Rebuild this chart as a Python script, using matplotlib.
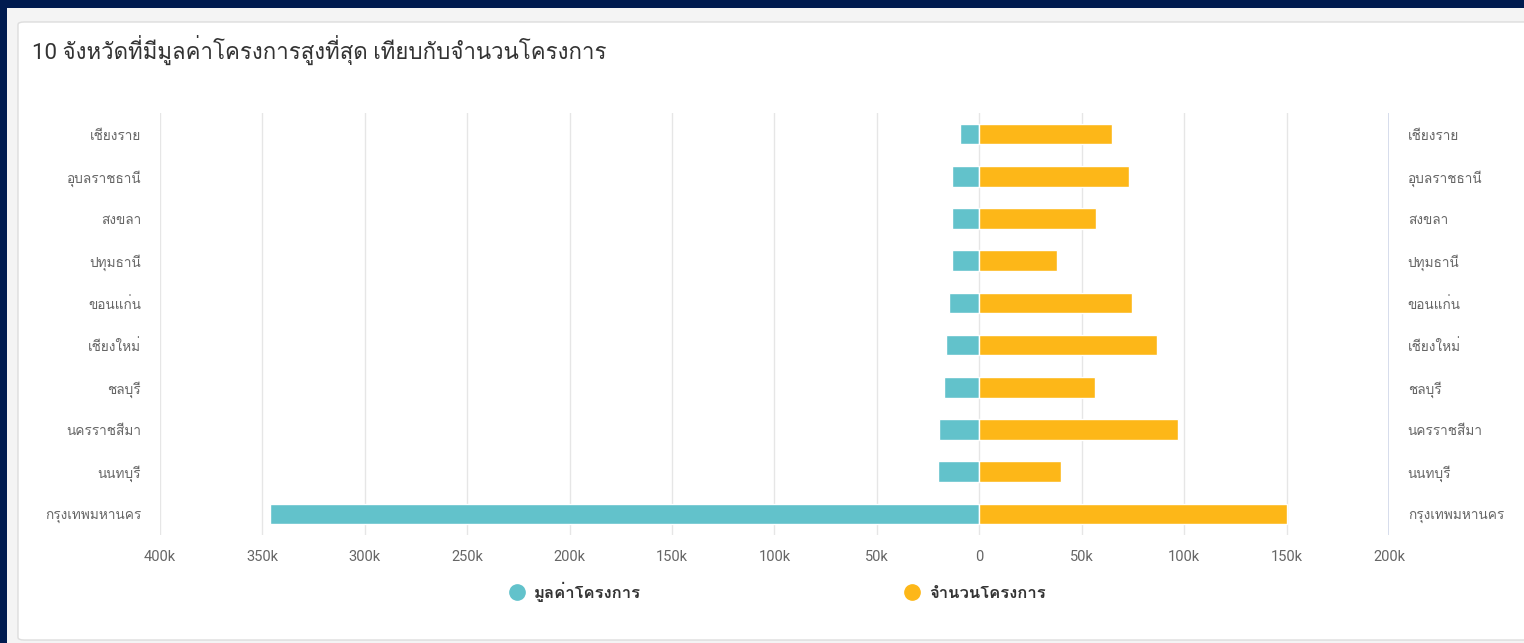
import matplotlib
matplotlib.use("Agg")
import matplotlib.pyplot as plt
from matplotlib import font_manager
from matplotlib.ft2font import FT2Font
from matplotlib.lines import Line2D
from matplotlib.patches import FancyBboxPatch, Rectangle
from matplotlib.ticker import FuncFormatter, MultipleLocator

# data (top row first)
provinces = ["เชียงราย", "อุบลราชธานี", "สงขลา", "ปทุมธานี", "ขอนแก่น",
             "เชียงใหม่", "ชลบุรี", "นครราชสีมา", "นนทบุรี", "กรุงเทพมหานคร"]
project_value = [9400, 13300, 13300, 13300, 14800, 16100, 17300, 19700, 20400, 346400]
project_count = [64700, 73300, 57100, 37800, 74600, 86800, 56500, 97100, 39700, 150200]
series_names = ["มูลค่าโครงการ", "จำนวนโครงการ"]
title = "10 จังหวัดที่มีมูลค่าโครงการสูงที่สุด เทียบกับจำนวนโครงการ"


# find an installed font that has Thai glyphs
def thai_font():
    for f in font_manager.fontManager.ttflist:
        try:
            if 0x0E01 in FT2Font(f.fname).get_charmap():
                return f.name
        except Exception:
            pass
    return None


thai = thai_font()
fams = ["Roboto"] + ([thai] if thai else []) + ["DejaVu Sans"]
plt.rcParams["font.family"] = fams

teal = "#62c2cb"
orange = "#fdb718"

fig = plt.figure(figsize=(15.24, 6.43), dpi=100)
fig.patch.set_facecolor("#001b4f")

# page / card background
fig.patches.append(Rectangle((7 / 1524, 0), 1, 1 - 8 / 643, transform=fig.transFigure,
                             facecolor="#f4f4f4", edgecolor="none", zorder=-2))
fig.patches.append(FancyBboxPatch((18 / 1524, 3 / 643), 1.2, 1 - 25 / 643, transform=fig.transFigure,
                                  boxstyle="round,pad=0,rounding_size=0.004",
                                  facecolor="white", edgecolor="#dddddd", lw=1, zorder=-1))

fig.text(32 / 1524, 1 - 50 / 643, title, fontsize=16, color="#333333", va="center", ha="left")

ax = fig.add_axes([160 / 1524, 1 - 535 / 643, 1229 / 1524, 422 / 643])
ax.set_facecolor("none")

ypos = list(range(len(provinces)))
neg_value = [-v for v in project_value]
ax.barh(ypos, neg_value, height=0.49, color=teal, edgecolor="white", linewidth=1, zorder=3)
ax.barh(ypos, project_count, height=0.49, color=orange, edgecolor="white", linewidth=1, zorder=3)

ax.set_xlim(-400000, 200000)
ax.set_ylim(-0.5, len(provinces) - 0.5)
ax.invert_yaxis()
ax.xaxis.set_major_locator(MultipleLocator(50000))
ax.xaxis.set_major_formatter(FuncFormatter(lambda v, p: "0" if v == 0 else f"{abs(v) / 1000:.0f}k"))
ax.grid(axis="x", color="#e6e6e6", lw=1, zorder=0)
ax.axvline(-400000, color="#ccd6eb", lw=1.2, zorder=1)
ax.axvline(200000, color="#ccd6eb", lw=1.2, zorder=1)

ax.set_yticks(ypos)
ax.set_yticklabels(provinces)
ax.tick_params(axis="y", left=False, right=False, labelleft=True, labelright=True,
               labelsize=9.8, labelcolor="#666666", pad=10)
ax.tick_params(axis="x", length=0, labelsize=10.5, labelcolor="#666666", pad=11)
for s in ax.spines.values():
    s.set_visible(False)

handles = [Line2D([], [], marker="o", ls="none", markersize=11, color=c) for c in (teal, orange)]
leg = ax.legend(handles, series_names, loc="center", bbox_to_anchor=(0.5, -0.135), ncol=2,
                frameon=False, fontsize=12, columnspacing=15.5, handletextpad=0.2,
                handlelength=1.6)
for t in leg.get_texts():
    t.set_color("#333333")
    t.set_fontweight("bold")

fig.savefig("out.png", dpi=100, facecolor=fig.get_facecolor())
